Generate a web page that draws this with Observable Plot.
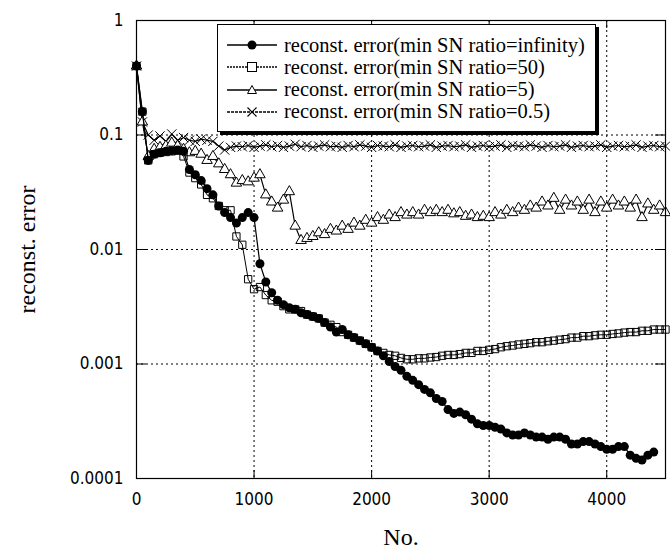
<!DOCTYPE html>
<html>
<head>
<meta charset="utf-8">
<script src="https://cdn.jsdelivr.net/npm/d3@7"></script>
<script src="https://cdn.jsdelivr.net/npm/@observablehq/plot@0.6"></script>
<style>
  html, body { margin: 0; padding: 0; background: #fff; }
  #wrap { position: relative; width: 670px; height: 553px; }
  #wrap svg.plot { position: absolute; left: 0; top: 0; }
  g[aria-label="y-axis label"], g[aria-label="x-axis label"] {
    font-family: "Liberation Serif", "DejaVu Serif", serif;
    font-size: 24px;
  }
  #legend {
    position: absolute; left: 217px; top: 24px; width: 377px; height: 106px;
    border: 1px solid #000; background: #fff; box-shadow: 3px 3px 0 #000;
    font-family: "Liberation Serif", "DejaVu Serif", serif; font-size: 20.5px; color: #000;
    white-space: nowrap;
  }
  #legend .row { position: absolute; left: 0; height: 22px; display: flex; align-items: center; }
  #legend svg { display: block; margin-left: 9px; margin-right: 7px; }
</style>
</head>
<body>
<div id="wrap"></div>
<script>
// ---- data ----
const xValues = [
  0, 50, 100, 150, 200, 250, 300, 350, 400, 450,
  500, 550, 600, 650, 700, 750, 800, 850, 900, 950,
  1000, 1050, 1100, 1150, 1200, 1250, 1300, 1350, 1400, 1450,
  1500, 1550, 1600, 1650, 1700, 1750, 1800, 1850, 1900, 1950,
  2000, 2050, 2100, 2150, 2200, 2250, 2300, 2350, 2400, 2450,
  2500, 2550, 2600, 2650, 2700, 2750, 2800, 2850, 2900, 2950,
  3000, 3050, 3100, 3150, 3200, 3250, 3300, 3350, 3400, 3450,
  3500, 3550, 3600, 3650, 3700, 3750, 3800, 3850, 3900, 3950,
  4000, 4050, 4100, 4150, 4200, 4250, 4300, 4350, 4400, 4450,
  4500
];
const errInfinity = [
  0.4, 0.16, 0.06, 0.068, 0.07, 0.072, 0.073, 0.074, 0.072, 0.05,
  0.045, 0.04, 0.034, 0.03, 0.024, 0.021, 0.019, 0.017, 0.019, 0.021,
  0.019, 0.0075, 0.0052, 0.0042, 0.0036, 0.0033, 0.0031, 0.003, 0.0028, 0.0027,
  0.0026, 0.0025, 0.0023, 0.0021, 0.0019, 0.002, 0.0018, 0.0017, 0.0016, 0.0015,
  0.0014, 0.0013, 0.00118, 0.00105, 0.00095, 0.00088, 0.00078, 0.00072, 0.00066, 0.0006,
  0.00056, 0.0005, 0.00047, 0.0004, 0.00037, 0.00038, 0.00036, 0.00033, 0.0003, 0.00029,
  0.00029, 0.00028, 0.00027, 0.00025, 0.00024, 0.00024, 0.00025, 0.00024, 0.00023, 0.00023,
  0.00022, 0.00023, 0.00023, 0.00022, 0.0002, 0.0002, 0.00021, 0.00021, 0.0002, 0.00019,
  0.00018, 0.00018, 0.00019, 0.00019, 0.00016, 0.00015, 0.000145, 0.00016, 0.00017, null,
  null
];
const err50 = [
  0.4, 0.16, 0.06, 0.068, 0.07, 0.071, 0.072, 0.073, 0.065, 0.047,
  0.042, 0.037, 0.03, 0.028, 0.024, 0.022, 0.022, 0.013, 0.011, 0.0055,
  0.0045, 0.0047, 0.004, 0.0036, 0.0035, 0.0032, 0.003, 0.003, 0.0029, 0.0027,
  0.0026, 0.0025, 0.0023, 0.0022, 0.0021, 0.0019, 0.0018, 0.0017, 0.0016, 0.0015,
  0.0014, 0.0013, 0.00125, 0.0012, 0.00118, 0.00113, 0.0011, 0.0011, 0.00112, 0.00112,
  0.00114, 0.00115, 0.00118, 0.0012, 0.0012, 0.00122, 0.00125, 0.00125, 0.0013, 0.0013,
  0.00133, 0.00135, 0.0014, 0.00143, 0.00145, 0.00148, 0.0015, 0.00152, 0.00155, 0.00155,
  0.00158, 0.0016, 0.00163, 0.00165, 0.0017, 0.0017, 0.00175, 0.00175, 0.00178, 0.0018,
  0.0018, 0.00183, 0.00185, 0.00188, 0.0019, 0.0019, 0.00195, 0.00195, 0.002, 0.002,
  0.002
];
const err5 = [
  0.4, 0.13, 0.065, 0.075, 0.078, 0.08, 0.085, 0.08, 0.075, 0.07,
  0.072, 0.068, 0.06, 0.065, 0.056, 0.05, 0.045, 0.038, 0.04, 0.039,
  0.042, 0.045, 0.03, 0.026, 0.023, 0.027, 0.032, 0.016, 0.012, 0.0125,
  0.013, 0.014, 0.0135, 0.015, 0.0145, 0.016, 0.015, 0.017, 0.016, 0.018,
  0.017, 0.019, 0.018, 0.02, 0.019, 0.021, 0.02, 0.021, 0.02, 0.022,
  0.021, 0.022, 0.021, 0.022, 0.0205, 0.021, 0.0195, 0.02, 0.019, 0.0195,
  0.019, 0.021, 0.02, 0.022, 0.021, 0.023, 0.022, 0.024, 0.023, 0.026,
  0.024, 0.028, 0.022, 0.027, 0.024, 0.026, 0.022, 0.027, 0.021, 0.026,
  0.023, 0.027, 0.024, 0.026, 0.023, 0.027, 0.019, 0.025, 0.022, 0.024,
  0.021
];
const err05 = [
  0.4, 0.13, 0.1, 0.09, 0.098, 0.088, 0.102, 0.09, 0.095, 0.09,
  0.088, 0.092, 0.09, 0.088, 0.08, 0.074, 0.078, 0.08, 0.079, 0.081,
  0.078, 0.08, 0.082, 0.079, 0.081, 0.078, 0.08, 0.083, 0.079, 0.081,
  0.078, 0.08, 0.082, 0.079, 0.08, 0.078, 0.081, 0.079, 0.082, 0.08,
  0.078, 0.081, 0.08, 0.079, 0.082, 0.078, 0.08, 0.081, 0.079, 0.08,
  0.082, 0.078, 0.08, 0.081, 0.079, 0.08, 0.082, 0.078, 0.08, 0.081,
  0.079, 0.08, 0.082, 0.078, 0.081, 0.08, 0.079, 0.082, 0.08, 0.078,
  0.081, 0.079, 0.08, 0.082, 0.078, 0.08, 0.081, 0.079, 0.08, 0.082,
  0.078, 0.08, 0.081, 0.079, 0.08, 0.082, 0.078, 0.08, 0.081, 0.079,
  0.08
];
const seriesNames = [
  "reconst. error(min SN ratio=infinity)",
  "reconst. error(min SN ratio=50)",
  "reconst. error(min SN ratio=5)",
  "reconst. error(min SN ratio=0.5)"
];
const xTicks = [0, 1000, 2000, 3000, 4000];
const yTicks = [1e-4, 1e-3, 1e-2, 1e-1, 1];
const yTickLabels = ["0.0001", "0.001", "0.01", "0.1", "1"];

// ---- build tables ----
function table(values) {
  return xValues.map((x, i) => ({x, y: values[i]})).filter(d => d.y != null);
}
const tInf = table(errInfinity), t50 = table(err50), t5 = table(err5), t05 = table(err05);

const lineOpts = {x: "x", y: "y", stroke: "black", strokeWidth: 1.2};
const tickFont = "'DejaVu Sans Condensed', 'Liberation Sans Narrow', 'Liberation Sans', sans-serif";

const chart = Plot.plot({
  width: 670,
  height: 553,
  marginLeft: 136,
  marginRight: 5,
  marginTop: 20,
  marginBottom: 75,
  style: {background: "transparent", color: "black"},
  x: {domain: [0, 4500]},
  y: {type: "log", domain: [1e-4, 1]},
  marks: [
    Plot.gridX(xTicks, {stroke: "black", strokeOpacity: 1, strokeWidth: 1, strokeDasharray: "2,3"}),
    Plot.gridY(yTicks, {stroke: "black", strokeOpacity: 1, strokeWidth: 1, strokeDasharray: "2,3"}),
    // inward solid ticks
    Plot.tickX(xTicks, {x: d => d, stroke: "black", insetTop: 450}),
    Plot.tickX(xTicks, {x: d => d, stroke: "black", insetBottom: 450}),
    Plot.tickY(yTicks, {y: d => d, stroke: "black", insetRight: 519}),
    Plot.tickY(yTicks, {y: d => d, stroke: "black", insetLeft: 519}),
    Plot.axisX(xTicks, {
      tickSize: 0, tickPadding: 14, fontSize: 17,
      fontFamily: tickFont,
      tickFormat: d => String(d),
      label: "No.", labelAnchor: "center", labelArrow: "none", labelOffset: 66
    }),
    Plot.axisY(yTicks, {
      tickSize: 0, tickPadding: 13, fontSize: 17,
      fontFamily: tickFont,
      tickFormat: d => yTickLabels[yTicks.indexOf(d)],
      label: "reconst. error", labelAnchor: "center", labelArrow: "none", labelOffset: 119
    }),
    // series: 0.5 (times)
    Plot.line(t05, lineOpts),
    Plot.dot(t05, {x: "x", y: "y", symbol: "times", r: 4.3, stroke: "black", strokeWidth: 1}),
    // series: 5 (triangles)
    Plot.line(t5, lineOpts),
    Plot.dot(t5, {x: "x", y: "y", symbol: "triangle", r: 3.9, fill: "white", stroke: "black", strokeWidth: 1}),
    // series: infinity (filled circles)
    Plot.line(tInf, lineOpts),
    Plot.dot(tInf, {x: "x", y: "y", symbol: "circle", r: 4.5, fill: "black", stroke: "none"}),
    // series: 50 (open squares)
    Plot.line(t50, {...lineOpts, strokeWidth: 1}),
    Plot.dot(t50, {x: "x", y: "y", symbol: "square", r: 4.1, fill: "none", stroke: "black", strokeWidth: 1}),
    Plot.frame({stroke: "black", strokeWidth: 1.2})
  ]
});
chart.classList.add("plot");
const wrap = document.getElementById("wrap");
wrap.appendChild(chart);

// ---- legend ----
const legend = document.createElement("div");
legend.id = "legend";
const markerSvgs = [
  '<circle cx="25" cy="11" r="4.5" fill="black"/>',
  '<rect x="20.5" y="6.5" width="9" height="9" fill="white" stroke="black" stroke-width="1"/>',
  '<path d="M25,6.5 L29.5,14.5 L20.5,14.5 Z" fill="white" stroke="black" stroke-width="1"/>',
  '<path d="M20.5,6.5 L29.5,15.5 M29.5,6.5 L20.5,15.5" stroke="black" stroke-width="1.1"/>'
];
const dashes = ["", "2,1", "", "3,1"];
seriesNames.forEach((name, i) => {
  const row = document.createElement("div");
  row.className = "row";
  row.style.top = (9 + i * 22.3) + "px";
  row.innerHTML =
    '<svg width="50" height="22"><line x1="0" x2="50" y1="11" y2="11" stroke="black" stroke-width="1.3"' +
    (dashes[i] ? ' stroke-dasharray="' + dashes[i] + '"' : '') + '/>' + markerSvgs[i] + '</svg>' +
    '<span>' + name + '</span>';
  legend.appendChild(row);
});
wrap.appendChild(legend);
</script>
</body>
</html>
